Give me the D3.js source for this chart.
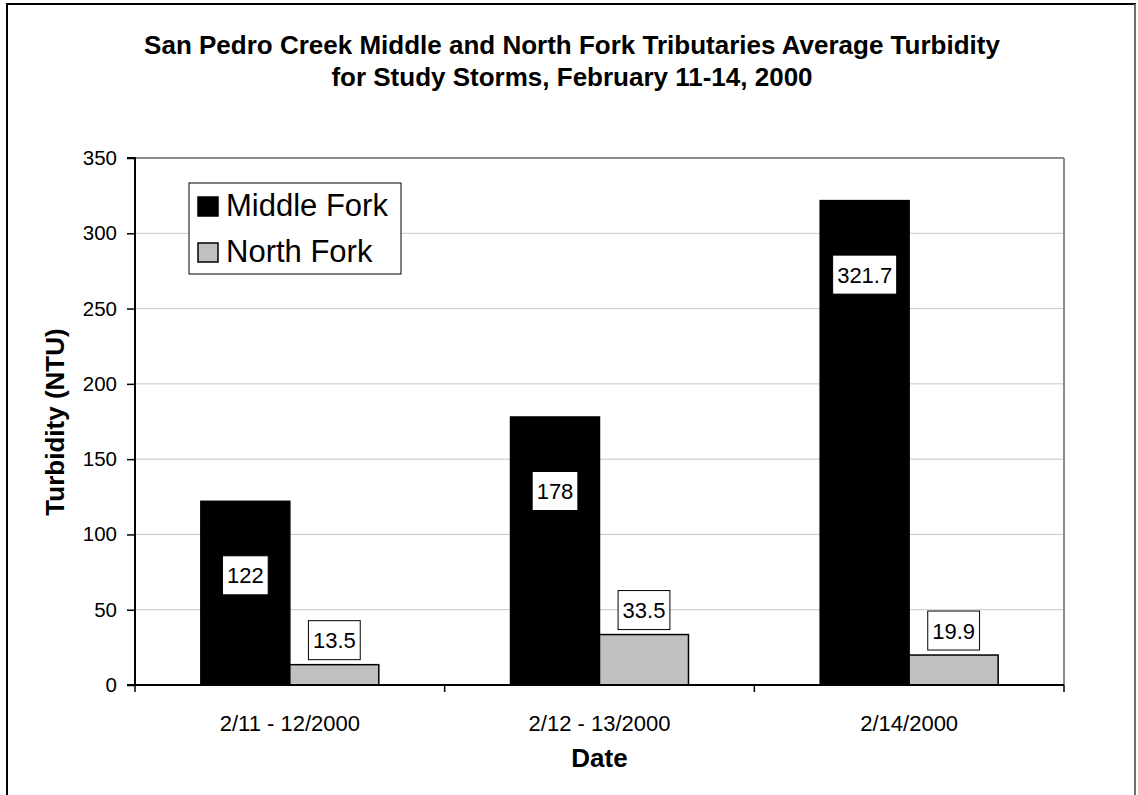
<!DOCTYPE html>
<html>
<head>
<meta charset="utf-8">
<script src="https://cdn.jsdelivr.net/npm/d3@7/dist/d3.min.js"></script>
<style>
  html, body { margin: 0; padding: 0; background: #fff; }
  svg { display: block; font-family: Arial, "Liberation Sans", sans-serif; }
</style>
</head>
<body>
<svg id="chart" width="1138" height="795"></svg>
<script>
// ---- data ----
const categories = ["2/11 - 12/2000", "2/12 - 13/2000", "2/14/2000"];
const seriesNames = ["Middle Fork", "North Fork"];
const middleFork = [122, 178, 321.7];
const northFork = [13.5, 33.5, 19.9];
const labelsMiddle = ["122", "178", "321.7"];
const labelsNorth = ["13.5", "33.5", "19.9"];
const yTicks = [0, 50, 100, 150, 200, 250, 300, 350];
const titleLines = ["San Pedro Creek Middle and North Fork Tributaries Average Turbidity",
                    "for Study Storms, February 11-14, 2000"];
const xTitle = "Date";
const yTitle = "Turbidity (NTU)";
const colors = ["#000000", "#c0c0c0"];

const svg = d3.select("#chart");
const W = 1138, H = 795;
const m = { left: 135, right: 1064, top: 158, bottom: 685 };

// outer chart border
svg.append("rect").attr("x", 0).attr("y", 0).attr("width", W).attr("height", H).attr("fill", "#fff");
svg.append("line").attr("x1", 7).attr("x2", 7).attr("y1", 4).attr("y2", H).attr("stroke", "#000").attr("stroke-width", 2);
svg.append("line").attr("x1", 6).attr("x2", 1136).attr("y1", 4).attr("y2", 4).attr("stroke", "#000").attr("stroke-width", 2);
svg.append("line").attr("x1", 1135).attr("x2", 1135).attr("y1", 4).attr("y2", H).attr("stroke", "#6e6e6e").attr("stroke-width", 2);

// title
svg.append("text").attr("x", 572).attr("y", 54)
  .attr("text-anchor", "middle").attr("font-weight", "bold").attr("font-size", 26)
  .selectAll("tspan").data(titleLines).join("tspan")
  .attr("x", 572).attr("dy", (d, i) => i === 0 ? 0 : 32).text(d => d);

// scales
const x0 = d3.scaleBand().domain(categories).range([m.left, m.right]).paddingInner(0).paddingOuter(0);
const x1 = d3.scaleBand().domain(seriesNames).range([0, x0.bandwidth()]).paddingInner(0).paddingOuter(0.74);
const y = d3.scaleLinear().domain([0, 350]).range([m.bottom, m.top]);

// gridlines
svg.append("g").selectAll("line").data(yTicks.filter(t => t > 0 && t < 350)).join("line")
  .attr("x1", m.left).attr("x2", m.right)
  .attr("y1", d => y(d)).attr("y2", d => y(d))
  .attr("stroke", "#c8c8c8").attr("stroke-width", 1);

// plot frame (top & right gray)
svg.append("line").attr("x1", m.left).attr("x2", m.right).attr("y1", m.top).attr("y2", m.top)
  .attr("stroke", "#8c8c8c").attr("stroke-width", 2);
svg.append("line").attr("x1", m.right).attr("x2", m.right).attr("y1", m.top).attr("y2", m.bottom)
  .attr("stroke", "#8c8c8c").attr("stroke-width", 2);

// bars
const seriesData = [middleFork, northFork];
const groups = svg.append("g");
seriesData.forEach((vals, si) => {
  groups.append("g").selectAll("rect").data(vals).join("rect")
    .attr("x", (d, i) => x0(categories[i]) + x1(seriesNames[si]))
    .attr("y", d => y(d))
    .attr("width", x1.bandwidth())
    .attr("height", d => y(0) - y(d))
    .attr("fill", colors[si])
    .attr("stroke", "#000").attr("stroke-width", 1.5);
});

// y axis
const yAxis = d3.axisLeft(y).tickValues(yTicks).tickSize(8).tickPadding(10).tickFormat(d3.format("d"));
const gy = svg.append("g").attr("transform", `translate(${m.left},0)`).call(yAxis);
gy.select(".domain").attr("stroke", "#000").attr("stroke-width", 2).attr("d", `M-8,${m.top}H0V${m.bottom}H-8`);
gy.selectAll(".tick line").attr("stroke", "#000").attr("stroke-width", 1.5);
gy.selectAll(".tick text").attr("font-size", 20.5).attr("fill", "#000").attr("font-family", "Arial, 'Liberation Sans', sans-serif");

// x axis
const xAxis = d3.axisBottom(x0).tickSize(0).tickPadding(30);
const gx = svg.append("g").attr("transform", `translate(0,${m.bottom})`).call(xAxis);
gx.select(".domain").attr("stroke", "#000").attr("stroke-width", 2).attr("d", `M${m.left},0H${m.right}`);
gx.selectAll(".tick text").attr("font-size", 22).attr("fill", "#000").attr("font-family", "Arial, 'Liberation Sans', sans-serif");
// category separator ticks
const bounds = [m.left].concat(categories.map(c => x0(c) + x0.bandwidth()));
gx.append("g").selectAll("line").data(bounds).join("line")
  .attr("x1", d => d).attr("x2", d => d).attr("y1", 0).attr("y2", 7)
  .attr("stroke", "#000").attr("stroke-width", 1.5);

// axis titles
svg.append("text").attr("x", (m.left + m.right) / 2).attr("y", 767)
  .attr("text-anchor", "middle").attr("font-weight", "bold").attr("font-size", 26).text(xTitle);
svg.append("text").attr("transform", `translate(64,422) rotate(-90)`)
  .attr("text-anchor", "middle").attr("font-weight", "bold").attr("font-size", 26).text(yTitle);

// data labels
function drawLabel(cx, cy, txt) {
  const g = svg.append("g");
  const t = g.append("text").attr("x", cx).attr("y", cy + 8).attr("text-anchor", "middle")
    .attr("font-size", 22).attr("fill", "#000").text(txt);
  const bb = t.node().getBBox();
  const w = bb.width + 9, h = 39;
  g.insert("rect", "text").attr("x", cx - w / 2).attr("y", cy - h / 2).attr("width", w).attr("height", h)
    .attr("fill", "#fff").attr("stroke", "#000").attr("stroke-width", 1);
}
middleFork.forEach((v, i) => {
  const cx = x0(categories[i]) + x1(seriesNames[0]) + x1.bandwidth() / 2;
  drawLabel(cx, y(v) + 74, labelsMiddle[i]);
});
northFork.forEach((v, i) => {
  const cx = x0(categories[i]) + x1(seriesNames[1]) + x1.bandwidth() / 2;
  drawLabel(cx, y(v) - 5 - 19.5, labelsNorth[i]);
});

// legend
const lg = svg.append("g");
lg.append("rect").attr("x", 189).attr("y", 183).attr("width", 212).attr("height", 91)
  .attr("fill", "#fff").attr("stroke", "#000").attr("stroke-width", 1);
seriesNames.forEach((s, i) => {
  const yy = 197 + i * 46;
  lg.append("rect").attr("x", 198).attr("y", yy).attr("width", 20).attr("height", 19)
    .attr("fill", colors[i]).attr("stroke", "#000").attr("stroke-width", 1.5);
  lg.append("text").attr("x", 226).attr("y", yy + 19).attr("font-size", 31).attr("fill", "#000").text(s);
});
</script>
</body>
</html>
